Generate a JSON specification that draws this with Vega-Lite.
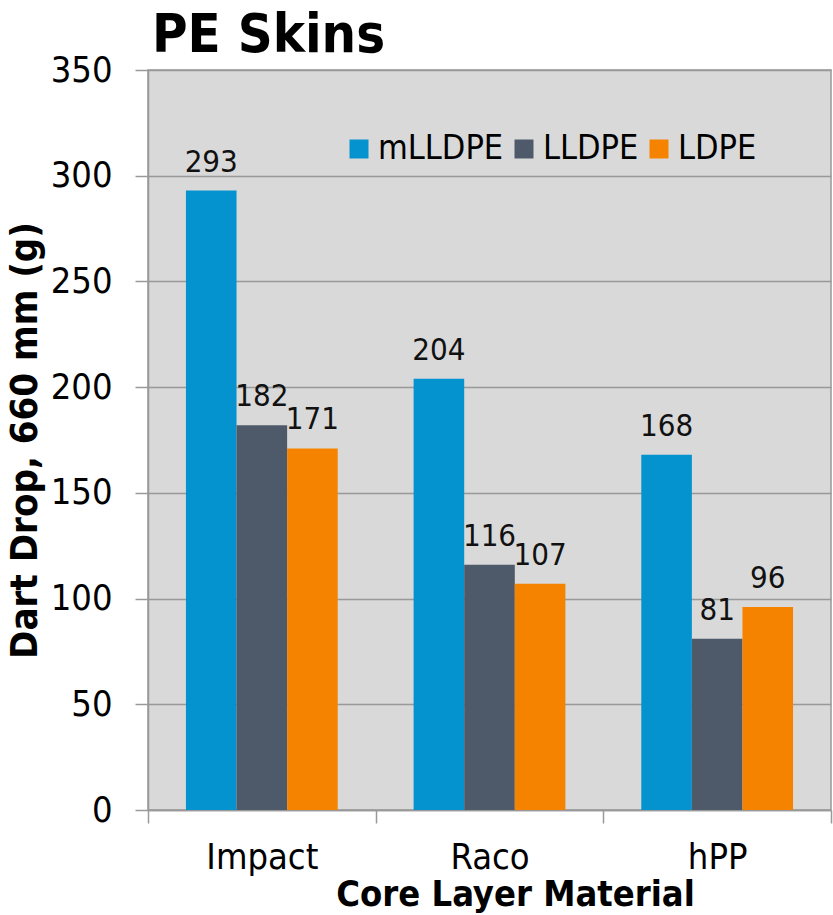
{
  "$schema": "https://vega.github.io/schema/vega-lite/v6.json",
  "width": 683,
  "height": 740,
  "autosize": "none",
  "padding": {"left": 148, "top": 70, "right": 2, "bottom": 105},
  "background": "#ffffff",
  "title": {
    "text": "PE Skins",
    "anchor": "start",
    "frame": "group",
    "dx": 4,
    "dy": 73,
    "baseline": "bottom",
    "offset": 8,
    "fontSize": 54,
    "fontWeight": "bold",
    "font": "DejaVu Sans Condensed, DejaVu Sans",
    "color": "#000000"
  },
  "data": {
    "values": [
      {"material": "Impact", "skin": "mLLDPE", "dart": 293},
      {"material": "Impact", "skin": "LLDPE", "dart": 182},
      {"material": "Impact", "skin": "LDPE", "dart": 171},
      {"material": "Raco", "skin": "mLLDPE", "dart": 204},
      {"material": "Raco", "skin": "LLDPE", "dart": 116},
      {"material": "Raco", "skin": "LDPE", "dart": 107},
      {"material": "hPP", "skin": "mLLDPE", "dart": 168},
      {"material": "hPP", "skin": "LLDPE", "dart": 81},
      {"material": "hPP", "skin": "LDPE", "dart": 96}
    ]
  },
  "encoding": {
    "x": {
      "field": "material",
      "type": "nominal",
      "sort": ["Impact", "Raco", "hPP"],
      "scale": {"paddingInner": 0, "paddingOuter": 0},
      "axis": {
        "title": "Core Layer Material",
        "labelAngle": 0,
        "tickBand": "extent",
        "grid": false,
        "domainColor": "#999999",
        "domainWidth": 1.5,
        "tickColor": "#999999",
        "tickWidth": 1.5,
        "tickSize": 13,
        "labelFontSize": 36,
        "labelPadding": 17,
        "labelColor": "#000000",
        "titleFontSize": 36,
        "titleFontWeight": "bold",
        "titleColor": "#000000",
        "titlePadding": 2,
        "titleX": 367
      }
    },
    "xOffset": {
      "field": "skin",
      "type": "nominal",
      "sort": ["mLLDPE", "LLDPE", "LDPE"],
      "scale": {"paddingInner": 0, "paddingOuter": 0.75}
    },
    "y": {
      "field": "dart",
      "type": "quantitative",
      "scale": {"domain": [0, 350], "nice": false},
      "axis": {
        "title": "Dart Drop, 660 mm (g)",
        "values": [0, 50, 100, 150, 200, 250, 300, 350],
        "grid": true,
        "gridColor": "#999999",
        "gridWidth": 1.5,
        "domainColor": "#999999",
        "domainWidth": 1.5,
        "tickColor": "#999999",
        "tickWidth": 1.5,
        "tickSize": 13,
        "labelFontSize": 36,
        "labelPadding": 23,
        "labelColor": "#000000",
        "titleFontSize": 38,
        "titleFontWeight": "bold",
        "titleColor": "#000000",
        "titlePadding": 6
      }
    }
  },
  "layer": [
    {
      "mark": {"type": "bar"},
      "encoding": {
        "color": {
          "field": "skin",
          "type": "nominal",
          "scale": {"domain": ["mLLDPE", "LLDPE", "LDPE"], "range": ["#0593D0", "#4E5A69", "#F58300"]},
          "legend": {
            "title": null,
            "orient": "none",
            "legendX": 194,
            "legendY": 62,
            "direction": "horizontal",
            "symbolType": "square",
            "symbolSize": 361,
            "symbolStrokeWidth": 0,
            "labelFontSize": 34,
            "labelColor": "#000000",
            "labelOffset": 2,
            "columnPadding": 3
          }
        }
      }
    },
    {
      "mark": {"type": "text", "baseline": "alphabetic", "dy": -19, "fontSize": 31, "color": "#111111"},
      "encoding": {"text": {"field": "dart", "type": "quantitative"}}
    }
  ],
  "config": {
    "font": "DejaVu Sans Condensed, DejaVu Sans",
    "view": {"fill": "#D9D9D9", "stroke": "#999999", "strokeWidth": 1.5}
  }
}
